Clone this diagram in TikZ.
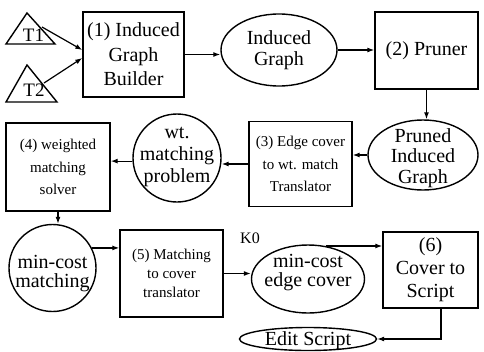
\documentclass[tikz,border=0pt]{standalone}
\usepackage{fontspec}
\setmainfont{Liberation Serif}
\usetikzlibrary{shapes.geometric,arrows.meta}
\begin{document}
\begin{tikzpicture}[x=1pt,y=-1pt]
\tikzset{
  big/.style={font=\fontsize{20}{22}\selectfont},
  box/.style={draw, line width=1.4pt, inner sep=0pt, align=center},
  oval/.style={draw, ellipse, line width=1.4pt, inner sep=0pt},
  circ/.style={draw, circle, line width=1.4pt, inner sep=0pt},
  lbl/.style={align=center},
  conn/.style={-{Latex[length=7pt,width=5pt]}, line width=1.2pt},
  tri/.style={line width=1.4pt, line join=miter}
}
\useasboundingbox (0,0) rectangle (484,351);

% triangles
\draw[tri] (27,13) -- (55,44) -- (6,44) -- cycle;
\node[font=\fontsize{19}{19}\selectfont, inner sep=0pt] (t1) at (33.5,35.5) {T1};
\draw[tri] (27,65) -- (57,102) -- (6,102) -- cycle;
\node[font=\fontsize{19}{19}\selectfont, inner sep=0pt] (t2) at (34,90.5) {T2};
\coordinate (t1e) at (42,27);
\coordinate (t2e) at (44,83);

% boxes
\node[box, font=\fontsize{20}{24.5}\selectfont, minimum width=101pt, minimum height=85pt] (b1) at (133.5,54.5) {(1) Induced\\Graph\\Builder};
\node[box, big, minimum width=103pt, minimum height=77pt] (b2) at (426.5,50.5) {(2) Pruner};
\node[box, font=\fontsize{15}{22.5}\selectfont, minimum width=103pt, minimum height=85pt] (b3) at (300.5,164) {(3) Edge cover\\to wt. match\\Translator};
\node[box, font=\fontsize{15}{22.5}\selectfont, minimum width=104pt, minimum height=88pt] (b4) at (58,167) {(4) weighted\\matching\\solver};
\node[box, font=\fontsize{15}{19}\selectfont, minimum width=103pt, minimum height=87pt] (b5) at (171.5,273.5) {(5) Matching\\to cover\\translator};
\node[box, font=\fontsize{20}{23}\selectfont, minimum width=95pt, minimum height=76pt] (b6) at (430.5,270) {(6)\\Cover to\\Script};

% ellipses and circles
\node[oval, minimum width=116pt, minimum height=72pt,
  label={[lbl, font=\fontsize{20}{21}\selectfont]center:Induced\\Graph}] (ig) at (279,50) {};
\node[oval, minimum width=110pt, minimum height=70pt,
  label={[lbl, font=\fontsize{20}{20.5}\selectfont, yshift=-3pt]center:Pruned\\Induced\\Graph}] (pr) at (423,155) {};
\node[circ, minimum size=88pt,
  label={[lbl, font=\fontsize{20}{22}\selectfont, yshift=1.5pt]center:wt.\\matching\\problem}] (wm) at (177,158) {};
\node[circ, minimum size=87pt,
  label={[lbl, font=\fontsize{20}{19}\selectfont, yshift=-6pt]center:min-cost\\matching}] (mc) at (52.5,268) {};
\node[oval, minimum width=113pt, minimum height=68pt,
  label={[lbl, font=\fontsize{20}{19}\selectfont, yshift=6pt]center:min-cost\\edge cover}] (ee) at (308,279) {};
\node[oval, minimum width=137pt, minimum height=23pt,
  label={[lbl, font=\fontsize{20}{20}\selectfont, yshift=-2pt]center:Edit Script}] (es) at (308,339) {};
\node[font=\fontsize{16}{16}\selectfont, inner sep=0pt] (k0) at (250,238) {K0};

% connectors
\draw[conn] (t1e) -- ([yshift=4.5pt]b1.west);
\draw[conn] (t2e) -- ([yshift=-3.5pt]b1.west);
\draw[conn] (b1.east) -- (b1.east -| ig.west);
\draw[conn] (ig.east) -- (ig.east -| b2.west);
\draw[conn] (b2.south) -- (b2.south |- pr.north);
\draw[conn] (pr.west) -- (pr.west -| b3.east);
\draw[conn] (b3.west) -- (b3.west -| wm.east);
\draw[conn] (wm.184) -- (wm.184 -| b4.east);
\draw[conn] (b4.south) -- (b4.south |- mc.north);
\draw[conn] (mc.27) -- (mc.27 -| b5.west);
\draw[conn] (b5.east) -- (b5.east -| ee.west);
\draw[conn] (ee.62) -- (ee.62 -| b6.west);
\draw[conn] ([xshift=10.5pt]b6.south) |- (es.east);
\end{tikzpicture}
\end{document}
